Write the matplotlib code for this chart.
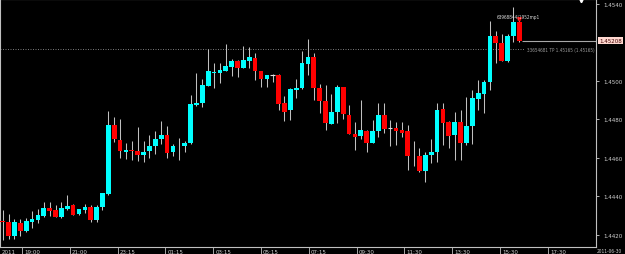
import matplotlib
matplotlib.use("Agg")
import matplotlib.pyplot as plt
import matplotlib.transforms as mtransforms
from matplotlib.font_manager import FontProperties
import numpy as np

# ---- data (M15 candles) ----
opens = [1.44270, 1.44266, 1.44192, 1.44264, 1.44222, 1.44269, 1.44276, 1.44300, 1.44341, 1.44329,
         1.44294, 1.44335, 1.44356, 1.44307, 1.44330, 1.44346, 1.44278, 1.44343, 1.44410, 1.44773,
         1.44695, 1.44629, 1.44643, 1.44638, 1.44613, 1.44634, 1.44660, 1.44696, 1.44717, 1.44628,
         1.44664, 1.44659, 1.44676, 1.44876, 1.44883, 1.44973, 1.45039, 1.45043, 1.45053, 1.45072,
         1.45103, 1.45067, 1.45105, 1.45121, 1.45049, 1.45009, 1.45032, 1.45032, 1.44883, 1.44848,
         1.44952, 1.44961, 1.45087, 1.45122, 1.44961, 1.44895, 1.44777, 1.44837, 1.44968, 1.44825,
         1.44725, 1.44712, 1.44740, 1.44679, 1.44738, 1.44825, 1.44756, 1.44754, 1.44747, 1.44737,
         1.44612, 1.44608, 1.44530, 1.44613, 1.44631, 1.44855, 1.44784, 1.44720, 1.44784, 1.44678,
         1.44764, 1.44904, 1.44931, 1.44992, 1.45232, 1.45197, 1.45102, 1.45232, 1.45305]
highs = [1.44330, 1.44309, 1.44282, 1.44282, 1.44289, 1.44325, 1.44335, 1.44372, 1.44369, 1.44354,
         1.44372, 1.44407, 1.44359, 1.44334, 1.44362, 1.44356, 1.44356, 1.44419, 1.44841, 1.44810,
         1.44803, 1.44679, 1.44685, 1.44758, 1.44685, 1.44721, 1.44742, 1.44791, 1.44763, 1.44674,
         1.44705, 1.44686, 1.44924, 1.45039, 1.45008, 1.45164, 1.45091, 1.45093, 1.45189, 1.45112,
         1.45107, 1.45181, 1.45174, 1.45145, 1.45052, 1.45030, 1.45033, 1.45033, 1.44921, 1.44962,
         1.45008, 1.45154, 1.45216, 1.45143, 1.44985, 1.44976, 1.44932, 1.44976, 1.44969, 1.44876,
         1.44785, 1.44902, 1.44746, 1.44799, 1.44884, 1.44884, 1.44798, 1.44785, 1.44784, 1.44772,
         1.44685, 1.44652, 1.44632, 1.44700, 1.44884, 1.44883, 1.44793, 1.44837, 1.44851, 1.44914,
         1.44952, 1.45003, 1.45003, 1.45312, 1.45261, 1.45241, 1.45242, 1.45381, 1.45314]
lows = [1.44174, 1.44178, 1.44176, 1.44196, 1.44216, 1.44234, 1.44260, 1.44295, 1.44296, 1.44291,
        1.44289, 1.44328, 1.44302, 1.44304, 1.44315, 1.44265, 1.44268, 1.44330, 1.44408, 1.44681,
        1.44598, 1.44593, 1.44587, 1.44586, 1.44577, 1.44600, 1.44622, 1.44671, 1.44600, 1.44608,
        1.44587, 1.44631, 1.44674, 1.44870, 1.44863, 1.44971, 1.44965, 1.44991, 1.45049, 1.45025,
        1.45020, 1.45065, 1.45067, 1.45002, 1.44968, 1.44970, 1.44994, 1.44851, 1.44789, 1.44796,
        1.44909, 1.44958, 1.45032, 1.44900, 1.44832, 1.44746, 1.44776, 1.44780, 1.44804, 1.44724,
        1.44639, 1.44699, 1.44629, 1.44678, 1.44707, 1.44728, 1.44660, 1.44665, 1.44707, 1.44535,
        1.44560, 1.44527, 1.44473, 1.44574, 1.44577, 1.44669, 1.44652, 1.44587, 1.44587, 1.44669,
        1.44674, 1.44850, 1.44834, 1.44950, 1.45093, 1.45101, 1.45099, 1.45202, 1.45204]
closes = [1.44268, 1.44194, 1.44265, 1.44222, 1.44271, 1.44282, 1.44301, 1.44341, 1.44325, 1.44294,
          1.44340, 1.44351, 1.44304, 1.44332, 1.44346, 1.44278, 1.44346, 1.44418, 1.44773, 1.44698,
          1.44638, 1.44643, 1.44634, 1.44613, 1.44632, 1.44659, 1.44700, 1.44717, 1.44627, 1.44660,
          1.44661, 1.44679, 1.44879, 1.44886, 1.44978, 1.45049, 1.45046, 1.45056, 1.45075, 1.45103,
          1.45067, 1.45107, 1.45122, 1.45051, 1.45009, 1.45030, 1.45032, 1.44881, 1.44837, 1.44956,
          1.44961, 1.45091, 1.45122, 1.44961, 1.44895, 1.44780, 1.44837, 1.44970, 1.44827, 1.44725,
          1.44709, 1.44744, 1.44679, 1.44740, 1.44825, 1.44751, 1.44756, 1.44742, 1.44730, 1.44612,
          1.44608, 1.44532, 1.44617, 1.44632, 1.44851, 1.44781, 1.44716, 1.44784, 1.44678, 1.44768,
          1.44909, 1.44935, 1.44992, 1.45232, 1.45194, 1.45101, 1.45232, 1.45305, 1.45208]

price_ticks = [1.4420, 1.4440, 1.4460, 1.4480, 1.4500, 1.4540]
price_tick_labels = ["1.4420", "1.4440", "1.4460", "1.4480", "1.4500", "1.4540"]
time_tick_pos = [3.29, 11.43, 19.57, 27.72, 35.86, 44.0, 52.14, 60.29, 68.43, 76.58, 84.72, 92.86]
time_tick_labels = ["19:00", "21:00", "23:15", "01:15", "03:15", "05:15", "07:15",
                    "09:30", "11:30", "13:30", "15:30", "17:30"]
first_date_label = "2011"
last_date_label = "2011-06-30"
tp_level = 1.45165
tp_text = "33654681 TP 1.45165 (1.45165)"
order_text = "63968844|1952mp1"
bid_price = closes[-1]
bid_label = "1.45208"

# ---- style ----
BG = "#000000"
UP = "#00ffff"
DOWN = "#ff0000"
WICK = "#c0c0c0"
FG = "#d0d0d0"
FS = 4.4


def fp(size):
    return FontProperties(family=["DejaVu Sans"], stretch="condensed", size=size)


fig = plt.figure(figsize=(6.25, 2.55), dpi=100, facecolor=BG)
W, H = 625, 255
ax = fig.add_axes([0 / W, 7 / H, 596 / W, 248 / H], facecolor=BG)

x = np.arange(len(opens))
o = np.array(opens); c = np.array(closes); h = np.array(highs); l = np.array(lows)

ax.vlines(x, l, h, color=WICK, lw=0.75, zorder=2)
minh = 0.000025
for xi, oi, ci in zip(x, o, c):
    if oi == ci:
        ax.hlines(oi, xi - 0.4, xi + 0.4, color="#e0e0e0", lw=0.8, zorder=3)
        continue
    col = UP if ci > oi else DOWN
    bot = min(oi, ci)
    hgt = max(abs(ci - oi), minh)
    ax.bar(xi, hgt, bottom=bot, width=0.8, color=col, linewidth=0, zorder=3)

xmin, xmax = -0.46, 101.07
ymin, ymax = 1.44137, 1.45425
ax.set_xlim(xmin, xmax)
ax.set_ylim(ymin, ymax)

# TP dotted line + label
ax.hlines(tp_level, xmin, 88.9, color="#8c8c8c", lw=0.6, linestyles=(0, (1.2, 1.8)), zorder=1)
ax.text(xmax - 0.15, tp_level, tp_text, color="#9a9a9a", fontproperties=fp(3.3),
        ha="right", va="center", zorder=4)

# bid line from last bar to the right edge
ax.hlines(bid_price, x[-1] + 0.4, xmax, color="#a8a8a8", lw=0.8, zorder=1)

# order marker and text
ax.plot([x[-1]], [highs[-1] + 0.00009], marker="v", ms=2.6, color=DOWN, mec=DOWN, zorder=5)
ax.text(84.2, 1.45338, order_text, color="#d8d8d8", fontproperties=fp(3.4),
        ha="left", va="center", zorder=5)

# chart-shift triangle at top
ax.plot([0.975], [0.995], marker="v", ms=3.2, color="white", transform=ax.transAxes,
        clip_on=False, zorder=6)

# axes frame
for s in ax.spines.values():
    s.set_color("#c0c0c0")
    s.set_linewidth(0.8)

# price axis on right
ax.yaxis.tick_right()
ax.set_yticks(price_ticks)
ax.set_yticklabels(price_tick_labels)
ax.tick_params(axis="y", colors=FG, length=2, width=0.6, pad=3)
for t in ax.get_yticklabels():
    t.set_fontproperties(fp(FS))

# time axis
ax.set_xticks(time_tick_pos)
ax.set_xticklabels([])
ax.tick_params(axis="x", colors="#c0c0c0", length=6, width=0.6, direction="out")
trans = mtransforms.blended_transform_factory(ax.transData, ax.transAxes)
for pos, lab in zip(time_tick_pos, time_tick_labels):
    ax.text(pos + 0.35, -0.008, lab, transform=trans, color=FG, fontproperties=fp(FS),
            ha="left", va="top")
ax.text(0.002, -0.008, first_date_label, transform=ax.transAxes, color=FG, fontproperties=fp(FS),
        ha="left", va="top")
fig.text(597 / W, 0.5 / H, last_date_label, color=FG, fontproperties=fp(3.5),
         ha="left", va="bottom")

# current price box
ax.text(1.005, bid_price, bid_label,
        transform=mtransforms.blended_transform_factory(ax.transAxes, ax.transData),
        color="#400000", fontproperties=fp(FS), ha="left", va="center", clip_on=False, zorder=7,
        bbox=dict(boxstyle="square,pad=0.15", facecolor="#ffd8d0", edgecolor="none"))

fig.savefig("out.png", dpi=100, facecolor=BG)
